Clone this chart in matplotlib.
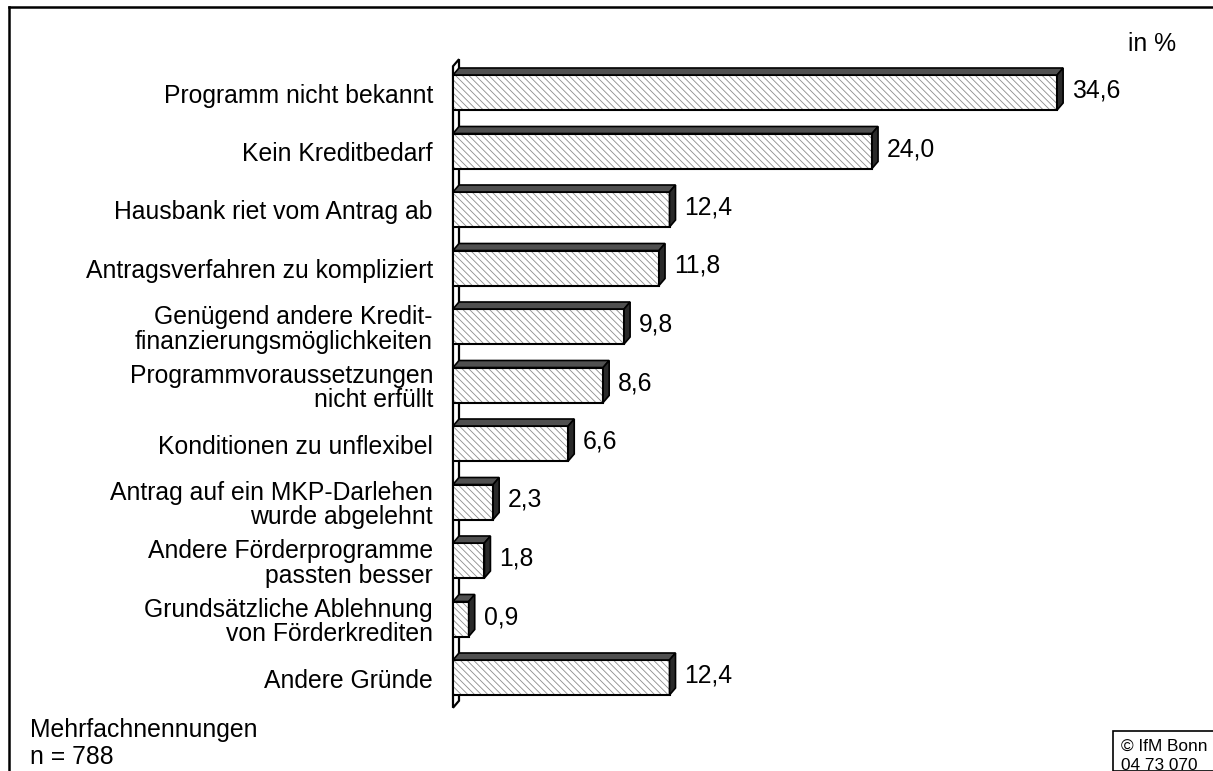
import matplotlib.pyplot as plt
from matplotlib.patches import Polygon, Rectangle

plt.rcParams['font.family'] = ['Liberation Sans', 'DejaVu Sans']
plt.rcParams['hatch.linewidth'] = 0.6

reasons = [
    "Programm nicht bekannt",
    "Kein Kreditbedarf",
    "Hausbank riet vom Antrag ab",
    "Antragsverfahren zu kompliziert",
    "Genügend andere Kredit-\nfinanzierungsmöglichkeiten",
    "Programmvoraussetzungen\nnicht erfüllt",
    "Konditionen zu unflexibel",
    "Antrag auf ein MKP-Darlehen\nwurde abgelehnt",
    "Andere Förderprogramme\npassten besser",
    "Grundsätzliche Ablehnung\nvon Förderkrediten",
    "Andere Gründe",
]
shares = [34.6, 24.0, 12.4, 11.8, 9.8, 8.6, 6.6, 2.3, 1.8, 0.9, 12.4]

W, H = 1213, 771
FS = 17.8
fig = plt.figure(figsize=(W / 100, H / 100), dpi=100)

# plot area: x 0..40 percent, one row per reason
x_max = 40
px_per_unit = 17.46
row_px = 58.5
ax_left = 453
ax_top = 92.5 - row_px / 2
ax_w = x_max * px_per_unit
ax_h = len(reasons) * row_px
ax = fig.add_axes([ax_left / W, 1 - (ax_top + ax_h) / H, ax_w / W, ax_h / H])
ax.set_xlim(0, x_max)
ax.set_ylim(len(reasons) - 0.5, -0.5)
ax.axis('off')

# pixel -> data helpers for the pseudo-3D depth
ux = 1 / px_per_unit
uy = 1 / row_px
dx, dy = 6 * ux, 7 * uy
bar_h = 35 * uy

# back wall behind the bars
y0, y1 = -0.5 + 3 * uy, len(reasons) - 0.5 + 1 * uy
wall = Polygon([(0, y1), (0, y0), (dx, y0 - dy), (dx, y1 - dy)],
               closed=True, facecolor='white', edgecolor='black', lw=1.6,
               clip_on=False, zorder=1)
ax.add_patch(wall)

ypos = list(range(len(reasons)))
ax.barh(ypos, shares, height=bar_h, color='white', edgecolor='#8c8c8c',
        hatch='\\\\\\\\\\', linewidth=0, zorder=2)
ax.barh(ypos, shares, height=bar_h, fill=False, edgecolor='black',
        linewidth=1.5, zorder=3)

for y, v in zip(ypos, shares):
    top = y - bar_h / 2
    bot = y + bar_h / 2
    top_face = Polygon([(0, top), (v, top), (v + dx, top - dy), (dx, top - dy)],
                       closed=True, facecolor='#505050', edgecolor='black',
                       lw=1.2, zorder=3, clip_on=False)
    side_face = Polygon([(v, top), (v, bot), (v + dx, bot - dy), (v + dx, top - dy)],
                        closed=True, facecolor='#2a2a2a', edgecolor='black',
                        lw=1.2, zorder=3, clip_on=False)
    ax.add_patch(top_face)
    ax.add_patch(side_face)
    ax.text(v + dx + 9 * ux, y - 2 * uy, f"{v:.1f}".replace('.', ','),
            ha='left', va='center', fontsize=FS, clip_on=False)

for y, name in zip(ypos, reasons):
    ax.text(-20 * ux, y + 3 * uy, name, ha='right', va='center',
            multialignment='right', fontsize=FS, linespacing=1.05, clip_on=False)

# outer frame (left and top edges visible)
fig.add_artist(plt.Line2D([9 / W, 9 / W], [0, 1 - 7 / H], color='black', lw=1.8))
fig.add_artist(plt.Line2D([9 / W, 1], [1 - 7 / H, 1 - 7 / H], color='black', lw=1.8))

fig.text(1176 / W, 1 - 44 / H, "in %", ha='right', va='center', fontsize=FS)
fig.text(30 / W, 1 - 730 / H, "Mehrfachnennungen", ha='left', va='center', fontsize=FS)
fig.text(30 / W, 1 - 757 / H, "n = 788", ha='left', va='center', fontsize=FS)

# source box in the lower right corner
fig.add_artist(Rectangle((1113 / W, 0), 1, (771 - 731) / H, transform=fig.transFigure,
                         facecolor='white', edgecolor='black', lw=1.2))
fig.text(1121 / W, 1 - 746 / H, "© IfM Bonn", ha='left', va='center', fontsize=12.4)
fig.text(1121 / W, 1 - 766 / H, "04 73 070", ha='left', va='center', fontsize=12.4)

fig.savefig('out.png', dpi=100)
